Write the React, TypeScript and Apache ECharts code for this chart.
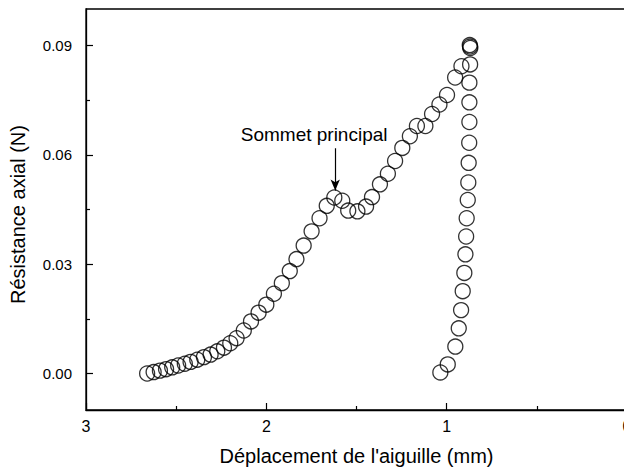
import React, { useEffect, useRef } from "react";
import * as echarts from "echarts";

const loadX = [2.661, 2.625, 2.59, 2.556, 2.522, 2.489, 2.452, 2.42, 2.383, 2.346, 2.309, 2.272, 2.235, 2.2, 2.165, 2.125, 2.085, 2.043, 2.0, 1.958, 1.914, 1.87, 1.833, 1.793, 1.749, 1.705, 1.665, 1.623, 1.579, 1.546, 1.495, 1.447, 1.414, 1.37, 1.326, 1.286, 1.246, 1.204, 1.165, 1.118, 1.081, 1.04, 0.998, 0.953, 0.918, 0.872, 0.870, 0.869];
const loadY = [0.0, 0.0004, 0.0008, 0.0012, 0.0017, 0.0022, 0.0027, 0.0032, 0.0038, 0.0045, 0.0052, 0.0061, 0.0071, 0.0083, 0.0097, 0.0118, 0.0143, 0.0167, 0.0189, 0.0219, 0.0248, 0.0281, 0.0314, 0.0351, 0.039, 0.0426, 0.046, 0.0483, 0.0474, 0.0447, 0.0445, 0.0458, 0.0484, 0.0519, 0.0548, 0.0583, 0.0619, 0.0651, 0.0679, 0.0679, 0.0712, 0.0738, 0.0764, 0.0812, 0.0843, 0.0901, 0.0897, 0.0893];
const unloadX = [0.87, 0.874, 0.874, 0.874, 0.875, 0.878, 0.88, 0.883, 0.889, 0.892, 0.896, 0.902, 0.911, 0.92, 0.933, 0.952, 0.994, 1.035];
const unloadY = [0.0848, 0.0798, 0.0744, 0.069, 0.0633, 0.0578, 0.0524, 0.0476, 0.0426, 0.0376, 0.0327, 0.0276, 0.0226, 0.0174, 0.0124, 0.0074, 0.0025, 0.0003];

const xTicks = [0, 1, 2, 3];
const yTickLabels = [0, 0.03, 0.06, 0.09];
const yMinorTicks = [-0.015, 0.015, 0.045, 0.075];

const annotationText = "Sommet principal";
const annotationX = 1.735;
const annotationY = 0.0623;
const arrowX = 1.618;
const arrowFromY = 0.0618;
const arrowToY = 0.0502;

const FONT = "Liberation Sans, Arial, sans-serif";

export default function App() {
  const ref = useRef<HTMLDivElement>(null);
  useEffect(() => {
    if (!ref.current) return;
    const chart = echarts.init(ref.current, undefined, { renderer: "svg" });
    const pts = loadX.map((x, i) => [x, loadY[i]]).concat(unloadX.map((x, i) => [x, unloadY[i]]));
    chart.setOption({
      animation: false,
      backgroundColor: "#fff",
      textStyle: { fontFamily: FONT },
      grid: { left: 86, right: 73, top: 9, bottom: 63, show: true, borderColor: "#000", borderWidth: 1.3, backgroundColor: "transparent" },
      xAxis: {
        type: "value",
        inverse: true,
        min: 0,
        max: 3,
        interval: 1,
        name: "Déplacement de l'aiguille (mm)",
        nameLocation: "middle",
        nameGap: 36,
        nameTextStyle: { fontSize: 20, color: "#000", fontFamily: FONT },
        axisLine: { onZero: false, lineStyle: { color: "#000", width: 1.3 } },
        axisTick: { inside: true, length: 7, lineStyle: { color: "#000", width: 1.2 } },
        minorTick: { show: true, splitNumber: 2, length: 4, lineStyle: { color: "#000", width: 1.2 } },
        axisLabel: { show: true, fontSize: 16, color: "#000", margin: 8, fontFamily: FONT, customValues: xTicks, formatter: (v: number) => String(v) },
        splitLine: { show: false },
      },
      yAxis: [
        {
          type: "value",
          min: -0.01,
          max: 0.1,
          name: "Résistance axial (N)",
          nameLocation: "middle",
          nameGap: 58,
          nameTextStyle: { fontSize: 20, color: "#000", fontFamily: FONT, padding: [0, 10, 0, 0] },
          axisLine: { show: true, onZero: false, lineStyle: { color: "#000", width: 1.3 } },
          axisTick: { show: true, inside: true, length: 7, customValues: yTickLabels, lineStyle: { color: "#000", width: 1.2 } },
          axisLabel: { fontSize: 15, color: "#000", margin: 14, fontFamily: FONT, customValues: yTickLabels, formatter: (v: number) => v.toFixed(2) },
          splitLine: { show: false },
        },
        {
          type: "value",
          min: -0.01,
          max: 0.1,
          position: "left",
          axisLine: { show: false, onZero: false },
          axisTick: { show: true, inside: true, length: 4, customValues: yMinorTicks, lineStyle: { color: "#000", width: 1.2 } },
          axisLabel: { show: false },
          splitLine: { show: false },
        },
      ],
      series: [
        {
          type: "scatter",
          data: pts,
          symbol: "circle",
          symbolSize: 15,
          itemStyle: { color: "rgba(0,0,0,0)", borderColor: "#000", borderWidth: 1.3 },
          markLine: {
            silent: true,
            symbol: ["none", "arrow"],
            symbolSize: [7, 11],
            lineStyle: { color: "#000", width: 1.2, type: "solid" },
            label: { show: false },
            data: [[{ coord: [arrowX, arrowFromY] }, { coord: [arrowX, arrowToY] }]],
          },
          markPoint: {
            silent: true,
            symbol: "rect",
            symbolSize: 1,
            itemStyle: { color: "rgba(0,0,0,0)" },
            label: { show: true, position: "top", distance: 2, formatter: annotationText, fontSize: 19, color: "#000", fontFamily: FONT },
            data: [{ coord: [annotationX, annotationY] }],
          },
        },
      ],
    });
    return () => chart.dispose();
  }, []);
  return (
    <div style={{ position: "fixed", left: 0, top: 0, width: 624, height: 473, overflow: "hidden", background: "#fff" }}>
      <div ref={ref} style={{ width: 700, height: 473 }} />
    </div>
  );
}
